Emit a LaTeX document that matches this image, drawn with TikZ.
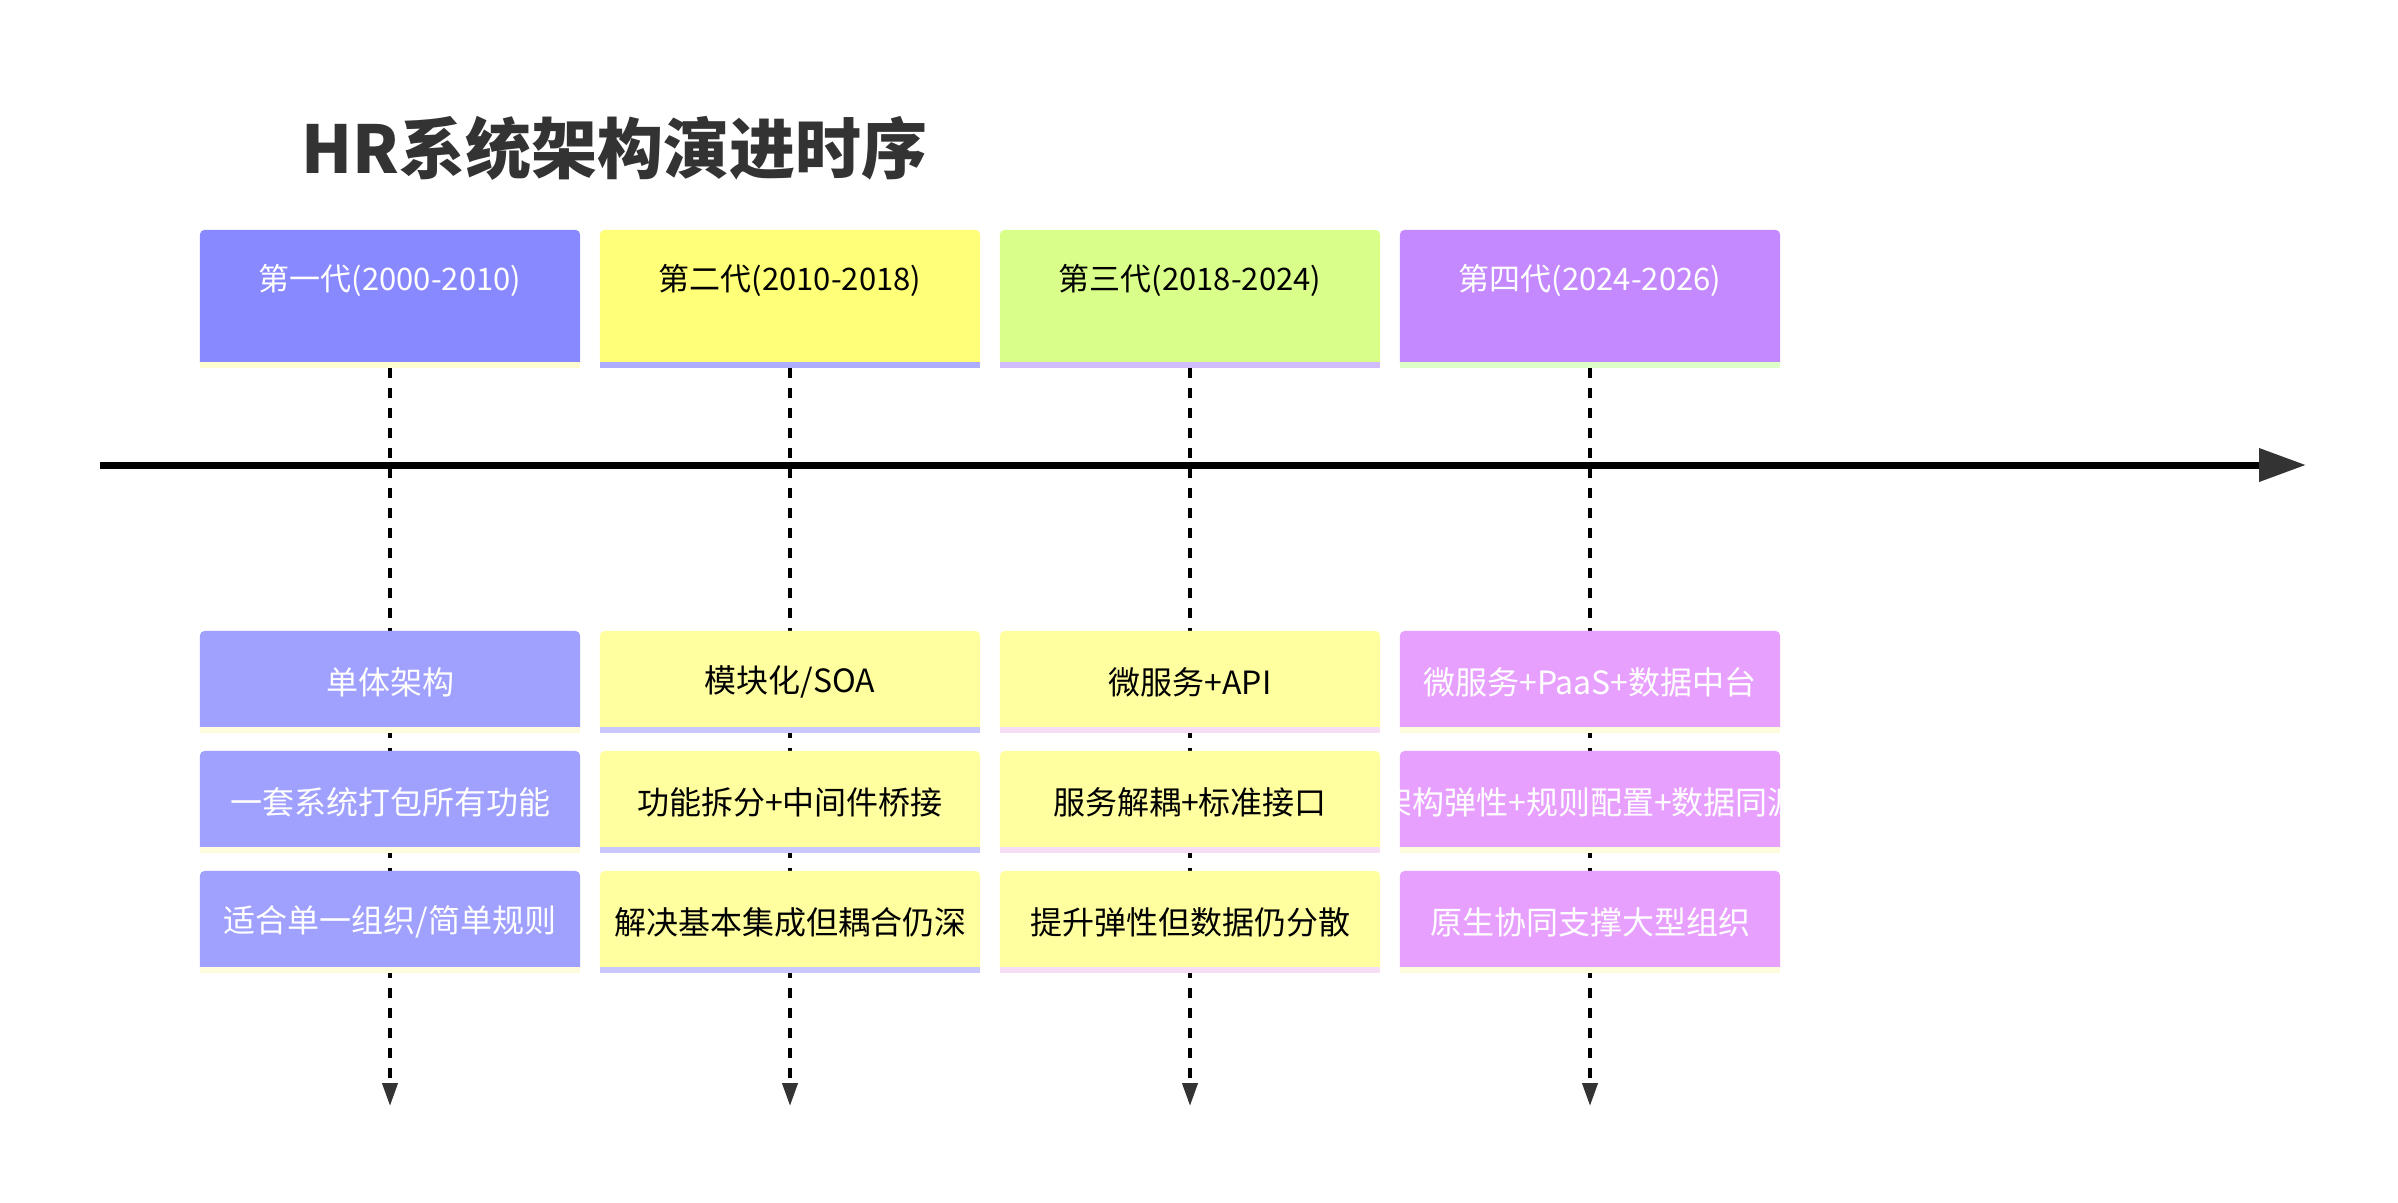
\documentclass[tikz,border=0pt]{standalone}
\usepackage{graphicx}
\usepackage{fontspec}
\setmainfont{Noto Sans CJK SC}
\usetikzlibrary{arrows.meta,backgrounds}
\definecolor{dark}{HTML}{333333}
\definecolor{hA}{HTML}{8888FF}
\definecolor{hB}{HTML}{FFFF78}
\definecolor{hC}{HTML}{D9FF8A}
\definecolor{hD}{HTML}{C488FF}
\definecolor{sA}{HTML}{FFFCD0}
\definecolor{sB}{HTML}{ADADFF}
\definecolor{sC}{HTML}{D0BCFF}
\definecolor{sD}{HTML}{DEFFC8}
\definecolor{eA}{HTML}{A0A0FF}
\definecolor{eB}{HTML}{FFFFA0}
\definecolor{eC}{HTML}{FFFFA0}
\definecolor{eD}{HTML}{E8A0FF}
\definecolor{tA}{HTML}{FFFCDD}
\definecolor{tB}{HTML}{C8C8FF}
\definecolor{tC}{HTML}{F6DDF6}
\definecolor{tD}{HTML}{FFFCDD}
\newcommand\cardfill[3]{%
  \fill[#2] (#1.south west) [rounded corners=5pt] -- (#1.north west) -- (#1.north east) [sharp corners] -- (#1.south east) -- cycle;
  \fill[#3] (#1.south west) rectangle ([yshift=-6pt]#1.south east);}
\newcommand\dn[1]{\raisebox{-3pt}[\height][\depth]{#1}}
\tikzset{
  card/.style={minimum width=380pt, inner sep=0pt, draw=none},
  hcard/.style={card, minimum height=132pt},
  ecard/.style={card, minimum height=96pt},
  hdrtxt/.style={font=\fontsize{31}{36}\selectfont, inner sep=0pt},
  evtxt/.style={font=\fontsize{32}{38}\selectfont, inner sep=0pt},
  vline/.style={line width=4pt, dash pattern=on 10pt off 10pt, -{Triangle[length=23pt,width=15pt,color=dark]}},
  mainline/.style={line width=7pt, black, -{Triangle[length=47pt,width=32pt,color=dark]}},
}
\begin{document}
\begin{tikzpicture}[x=1pt,y=-1pt]
\useasboundingbox (0,0) rectangle (2398,1202);
\node[anchor=west, text=dark, inner sep=0pt, font=\fontsize{66}{76}\selectfont\bfseries] (title) at (301,148) {HR系统架构演进时序};
% header cards
\node[hcard] (g1) at (390,296) {};
\node[hcard] (g2) at (790,296) {};
\node[hcard] (g3) at (1190,296) {};
\node[hcard] (g4) at (1590,296) {};
\node[hdrtxt, text=white] (g1t) at (390,280) {第一代(2000-2010)};
\node[hdrtxt, text=black] (g2t) at (790,280) {第二代(2010-2018)};
\node[hdrtxt, text=black] (g3t) at (1190,280) {第三代(2018-2024)};
\node[hdrtxt, text=white] (g4t) at (1590,280) {第四代(2024-2026)};
% event cards
\node[ecard, evtxt, text=white] (e11) at (390,679) {\dn{单体架构}};
\node[ecard, evtxt, text=white] (e12) at (390,799) {\dn{一套系统打包所有功能}};
\node[ecard, evtxt, text=white] (e13) at (390,919) {\dn{适合单一组织/简单规则}};
\node[ecard, evtxt, text=black] (e21) at (790,679) {\dn{模块化/SOA}};
\node[ecard, evtxt, text=black] (e22) at (790,799) {\dn{功能拆分+中间件桥接}};
\node[ecard, evtxt, text=black] (e23) at (790,919) {\dn{解决基本集成但耦合仍深}};
\node[ecard, evtxt, text=black] (e31) at (1190,679) {\dn{微服务+API}};
\node[ecard, evtxt, text=black] (e32) at (1190,799) {\dn{服务解耦+标准接口}};
\node[ecard, evtxt, text=black] (e33) at (1190,919) {\dn{提升弹性但数据仍分散}};
\node[ecard, evtxt, text=white] (e41) at (1590,679) {\dn{微服务+PaaS+数据中台}};
\node[ecard] (e42) at (1590,799) {};
\node[ecard, evtxt, text=white] (e43) at (1590,919) {\dn{原生协同支撑大型组织}};
\begin{scope}
  \clip (e42.south west) rectangle (e42.north east);
  \node[evtxt, text=white] (e42t) at (1590,799) {\dn{架构弹性+规则配置+数据同源}};
\end{scope}
% end points
\coordinate (g1end) at (390,1106);
\coordinate (g2end) at (790,1106);
\coordinate (g3end) at (1190,1106);
\coordinate (g4end) at (1590,1106);
\coordinate (tl0) at (100,465);
\coordinate (tl1) at (2306,465);
\begin{scope}[on background layer]
  \draw[vline] ([yshift=-6pt]g1.south) -- (g1end);
  \draw[vline] ([yshift=-6pt]g2.south) -- (g2end);
  \draw[vline] ([yshift=-6pt]g3.south) -- (g3end);
  \draw[vline] ([yshift=-6pt]g4.south) -- (g4end);
  \cardfill{g1}{hA}{sA}
  \cardfill{g2}{hB}{sB}
  \cardfill{g3}{hC}{sC}
  \cardfill{g4}{hD}{sD}
  \cardfill{e11}{eA}{tA}
  \cardfill{e12}{eA}{tA}
  \cardfill{e13}{eA}{tA}
  \cardfill{e21}{eB}{tB}
  \cardfill{e22}{eB}{tB}
  \cardfill{e23}{eB}{tB}
  \cardfill{e31}{eC}{tC}
  \cardfill{e32}{eC}{tC}
  \cardfill{e33}{eC}{tC}
  \cardfill{e41}{eD}{tD}
  \cardfill{e42}{eD}{tD}
  \cardfill{e43}{eD}{tD}
\end{scope}
\draw[mainline] (tl0) -- (tl1);
\end{tikzpicture}
\end{document}
